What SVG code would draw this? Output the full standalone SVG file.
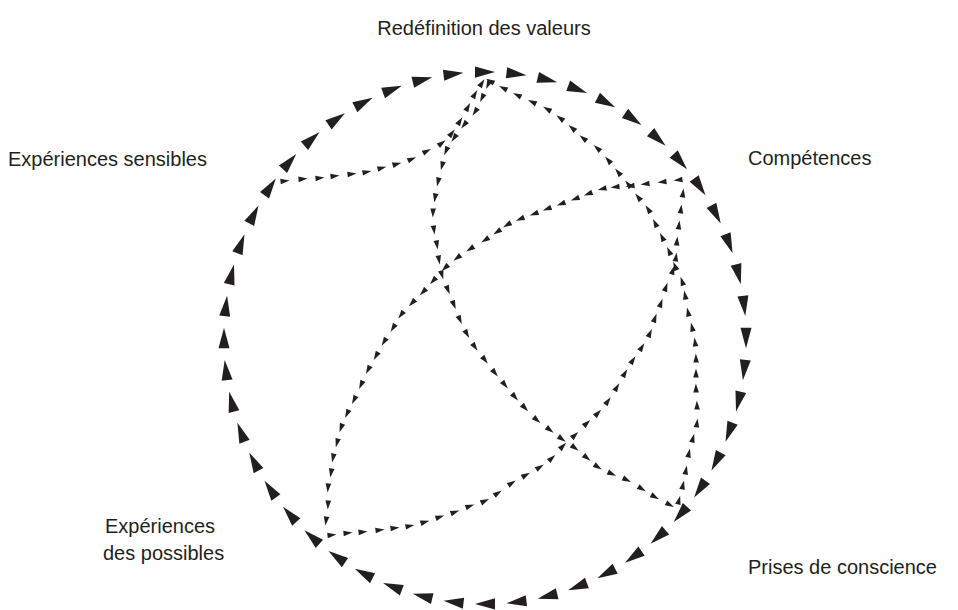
<svg xmlns="http://www.w3.org/2000/svg" xmlns:xlink="http://www.w3.org/1999/xlink" width="958" height="610" viewBox="0 0 958 610">
<style>
.lbl{font-family:"Liberation Sans",Arial,Helvetica,sans-serif;font-size:20px;fill:#231f20}
.inner{fill:none;stroke:none;marker-start:url(#s);marker-mid:url(#s);marker-end:url(#s)}
.big{fill:#231f20}
</style>
<defs>
<marker id="s" markerUnits="userSpaceOnUse" viewBox="-6 -6 12 12" markerWidth="12" markerHeight="12" refX="0" refY="0" orient="auto" overflow="visible">
<path d="M-4.5,-2.8 L4.5,0 L-4.5,2.8 Z" fill="#231f20"/>
</marker>
<path id="big" class="big" d="M-10,-266.5 L10,-261 L-10,-255.5 Z"/>
</defs>
<rect width="958" height="610" fill="#fff"/>
<g id="connectors">
<g id="outer-circle" transform="translate(485,338) scale(1,1.019)">
<g id="arc-valeurs-competences">
<use href="#big"/>
<use href="#big" transform="rotate(6.923)"/>
<use href="#big" transform="rotate(13.846)"/>
<use href="#big" transform="rotate(20.769)"/>
<use href="#big" transform="rotate(27.692)"/>
<use href="#big" transform="rotate(34.615)"/>
<use href="#big" transform="rotate(41.538)"/>
<use href="#big" transform="rotate(48.462)"/>
</g>
<g id="arc-competences-prises">
<use href="#big" transform="rotate(55.385)"/>
<use href="#big" transform="rotate(62.308)"/>
<use href="#big" transform="rotate(69.231)"/>
<use href="#big" transform="rotate(76.154)"/>
<use href="#big" transform="rotate(83.077)"/>
<use href="#big" transform="rotate(90)"/>
<use href="#big" transform="rotate(96.923)"/>
<use href="#big" transform="rotate(103.846)"/>
<use href="#big" transform="rotate(110.769)"/>
<use href="#big" transform="rotate(117.692)"/>
<use href="#big" transform="rotate(124.615)"/>
</g>
<g id="arc-prises-possibles">
<use href="#big" transform="rotate(131.538)"/>
<use href="#big" transform="rotate(138.462)"/>
<use href="#big" transform="rotate(145.385)"/>
<use href="#big" transform="rotate(152.308)"/>
<use href="#big" transform="rotate(159.231)"/>
<use href="#big" transform="rotate(166.154)"/>
<use href="#big" transform="rotate(173.077)"/>
<use href="#big" transform="rotate(180)"/>
<use href="#big" transform="rotate(186.923)"/>
<use href="#big" transform="rotate(193.846)"/>
<use href="#big" transform="rotate(200.769)"/>
<use href="#big" transform="rotate(207.692)"/>
<use href="#big" transform="rotate(214.615)"/>
</g>
<g id="arc-possibles-sensibles">
<use href="#big" transform="rotate(221.538)"/>
<use href="#big" transform="rotate(228.462)"/>
<use href="#big" transform="rotate(235.385)"/>
<use href="#big" transform="rotate(242.308)"/>
<use href="#big" transform="rotate(249.231)"/>
<use href="#big" transform="rotate(256.154)"/>
<use href="#big" transform="rotate(263.077)"/>
<use href="#big" transform="rotate(270)"/>
<use href="#big" transform="rotate(276.923)"/>
<use href="#big" transform="rotate(283.846)"/>
<use href="#big" transform="rotate(290.769)"/>
<use href="#big" transform="rotate(297.692)"/>
<use href="#big" transform="rotate(304.615)"/>
</g>
<g id="arc-sensibles-valeurs">
<use href="#big" transform="rotate(311.538)"/>
<use href="#big" transform="rotate(318.462)"/>
<use href="#big" transform="rotate(325.385)"/>
<use href="#big" transform="rotate(332.308)"/>
<use href="#big" transform="rotate(339.231)"/>
<use href="#big" transform="rotate(346.154)"/>
<use href="#big" transform="rotate(353.077)"/>
</g>
</g>
<polyline id="sensibles-valeurs" class="inner" points="285,181 303,179 320,178 335,176 352,174 367,172 382,168 397,164 412,159 427,151 442,143 452,133 460,121 468,107 475,94 482,83"/>
<polyline id="valeurs-prises" class="inner" points="488,85 482,98 475,112 464,125 454,138 446,151 442,166 438,182 435,198 433,213 434,230 437,245 439,260 442,275 448,290 454,305 460,320 467,334 475,347 485,360 495,373 505,385 515,397 525,408 537,420 550,430 562,439 575,448 587,458 598,467 612,474 627,480 642,489 655,497 670,505"/>
<polyline id="prises-valeurs" class="inner" points="679,500 683,485 686,470 689,453 693,438 697,423 697,405 696,388 696,373 696,358 695,342 692,327 688,312 685,295 682,281 675,266 669,251 662,237 655,223 648,209 638,197 628,184 618,172 608,160 597,148 583,138 572,128 560,118 547,109 532,102 517,95 503,88 490,81"/>
<polyline id="possibles-competences" class="inner" points="332,535 348,533 363,532 380,530 395,528 410,526 425,522 440,517 455,512 470,506 485,501 498,493 512,483 526,475 540,467 552,458 563,446 575,435 587,423 598,413 608,401 617,387 625,373 633,360 642,347 650,333 655,318 661,303 666,287 673,270 676,257 677,241 679,225 681,209 683,193"/>
<polyline id="competences-possibles" class="inner" points="678,180 662,182 645,184 630,186 615,187 602,189 588,194 575,199 561,204 547,209 534,214 520,219 507,225 497,232 485,240 470,249 457,258 445,268 433,281 423,292 412,303 401,315 393,328 384,342 376,356 368,370 361,385 354,400 347,414 341,428 337,443 333,458 331,473 328,488 328,505 326,521"/>
</g>
<g id="node-valeurs"><text class="lbl" x="484" y="35" text-anchor="middle">Redéfinition des valeurs</text></g>
<g id="node-competences"><text class="lbl" x="748" y="165">Compétences</text></g>
<g id="node-prises"><text class="lbl" x="748" y="574">Prises de conscience</text></g>
<g id="node-possibles"><text class="lbl" x="105" y="533">Expériences</text><text class="lbl" x="103" y="560">des possibles</text></g>
<g id="node-sensibles"><text class="lbl" x="8" y="166">Expériences sensibles</text></g>
</svg>
